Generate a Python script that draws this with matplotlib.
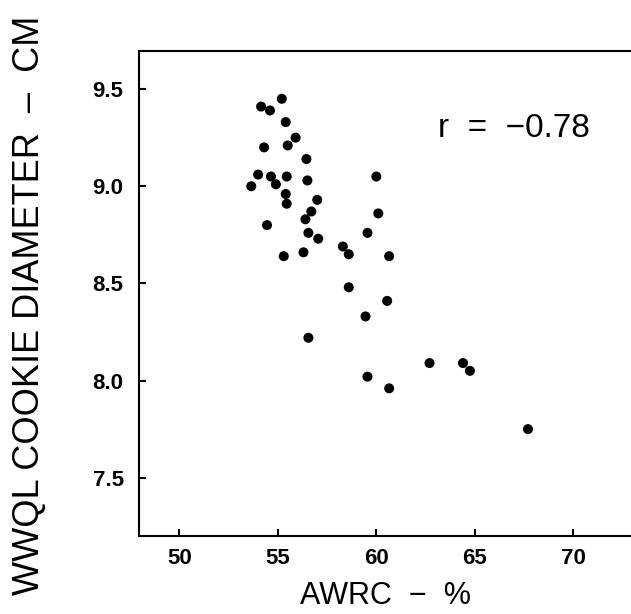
import matplotlib
matplotlib.use("Agg")
import matplotlib.pyplot as plt

# AWRC (%) vs WWQL cookie diameter (cm)
awrc = [55.2, 54.15, 54.6, 55.4, 55.9, 54.3, 55.5, 56.45, 54.0, 54.65,
        55.45, 56.5, 53.65, 54.9, 55.4, 55.45, 57.0, 56.7, 56.4, 60.1,
        54.45, 56.55, 57.05, 59.55, 58.3, 58.6, 60.65, 55.3, 56.3, 58.6,
        60.55, 59.45, 56.55, 60.0, 62.7, 64.4, 64.75, 59.55, 60.65, 67.7]
diameter = [9.45, 9.41, 9.39, 9.33, 9.25, 9.20, 9.21, 9.14, 9.06, 9.05,
            9.05, 9.03, 9.00, 9.01, 8.96, 8.91, 8.93, 8.87, 8.83, 8.86,
            8.80, 8.76, 8.73, 8.76, 8.69, 8.65, 8.64, 8.64, 8.66, 8.48,
            8.41, 8.33, 8.22, 9.05, 8.09, 8.09, 8.05, 8.02, 7.96, 7.75]

x_ticks = [50, 55, 60, 65, 70]
y_ticks = [7.5, 8.0, 8.5, 9.0, 9.5]
r_text = "r  =  \u22120.78"

plt.rcParams["font.family"] = ["Liberation Sans", "DejaVu Sans"]

fig = plt.figure(figsize=(6.31, 6.14), dpi=100)
ax = fig.add_axes([139 / 631, 78 / 614, 492 / 631, 485 / 614])

ax.scatter(awrc, diameter, s=52, color="black", edgecolors="none", zorder=3)

ax.set_xlim(47.95, 72.93)
ax.set_ylim(7.2, 9.696)
ax.set_xticks(x_ticks)
ax.set_yticks(y_ticks)
ax.set_xticklabels([str(t) for t in x_ticks], fontsize=16, fontweight="bold")
ax.set_yticklabels(["%.1f" % t for t in y_ticks], fontsize=16, fontweight="bold")

ax.tick_params(direction="in", length=5, width=1.5, colors="black")
ax.tick_params(axis="x", pad=9)
ax.tick_params(axis="y", pad=11)

for side in ["left", "top", "bottom"]:
    ax.spines[side].set_linewidth(1.5)
ax.spines["right"].set_visible(False)

ax.set_xlabel("AWRC  \u2212  %", fontsize=22, labelpad=8)
ax.set_ylabel("WWQL COOKIE DIAMETER  \u2013  CM", fontsize=26, labelpad=33)
ax.yaxis.label.set_y(0.476)

ax.text(0.763, 0.841, r_text, transform=ax.transAxes, fontsize=24,
        ha="center", va="center")

fig.savefig("out.png", dpi=100)
